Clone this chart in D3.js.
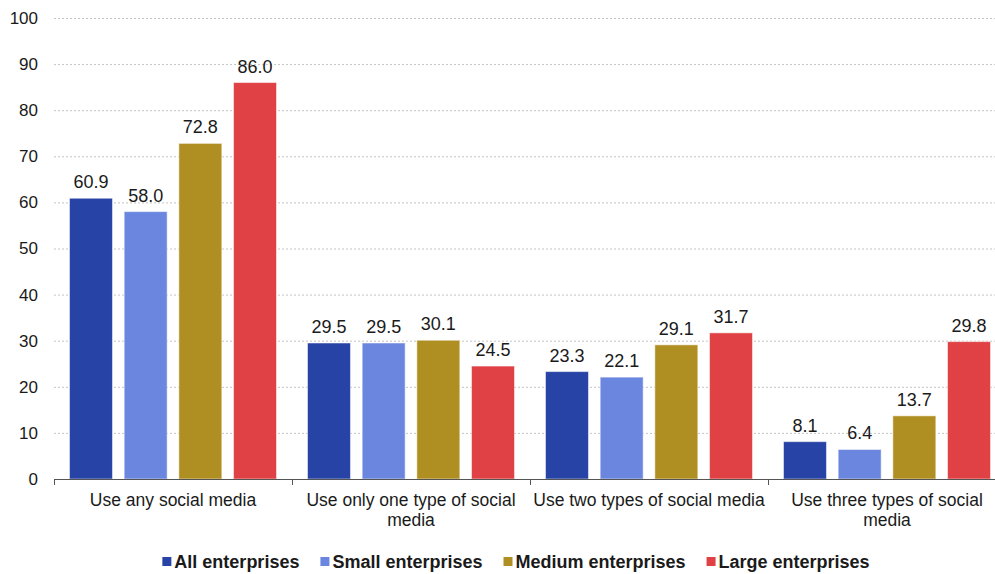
<!DOCTYPE html>
<html>
<head>
<meta charset="utf-8">
<script src="https://cdn.jsdelivr.net/npm/d3@7"></script>
<style>
  body { margin: 0; background: #fff; }
  svg text { font-family: "Liberation Sans", Arial, sans-serif; fill: #1a1a1a; }
</style>
</head>
<body>
<svg id="chart" width="995" height="574"></svg>
<script>
// chart data
var categories = ['Use any social media', 'Use only one type of social\nmedia', 'Use two types of social media', 'Use three types of social\nmedia'];
var seriesNames = ['All enterprises', 'Small enterprises', 'Medium enterprises', 'Large enterprises'];
var allEnterprises = [60.9, 29.5, 23.3, 8.1];
var smallEnterprises = [58.0, 29.5, 22.1, 6.4];
var mediumEnterprises = [72.8, 30.1, 29.1, 13.7];
var largeEnterprises = [86.0, 24.5, 31.7, 29.8];
var yTicks = [0, 10, 20, 30, 40, 50, 60, 70, 80, 90, 100];

var colors = ['#2743a6', '#6b86de', '#b08f22', '#e04144'];
var seriesValues = [allEnterprises, smallEnterprises, mediumEnterprises, largeEnterprises];

var svg = d3.select('#chart');
var margin = { top: 18, left: 54, bottom: 95 };
var plotRight = 1006;
var baseY = 574 - margin.bottom;

var x0 = d3.scaleBand()
    .domain(categories)
    .range([margin.left, plotRight])
    .padding(0);

var x1 = d3.scaleBand()
    .domain(seriesNames)
    .range([15.5, x0.bandwidth() - 15.5])
    .paddingInner(0.214)
    .paddingOuter(0);

var y = d3.scaleLinear()
    .domain([0, 100])
    .range([baseY, margin.top]);

// gridlines
svg.append('g')
    .selectAll('line')
    .data(yTicks.filter(function(d) { return d > 0; }))
    .enter()
    .append('line')
    .attr('x1', margin.left)
    .attr('x2', 995)
    .attr('y1', function(d) { return y(d) + 0.5; })
    .attr('y2', function(d) { return y(d) + 0.5; })
    .attr('stroke', '#c4c4c4')
    .attr('stroke-dasharray', '2,2');

// y labels
var yAxis = d3.axisLeft(y).tickValues(yTicks).tickSize(0).tickPadding(16);
var yg = svg.append('g')
    .attr('transform', 'translate(' + margin.left + ',0)')
    .call(yAxis);
yg.select('.domain').remove();
yg.selectAll('text')
    .style('font-size', '17px')
    .attr('fill', '#1a1a1a');

// bars
var groups = svg.append('g')
    .selectAll('g')
    .data(categories)
    .enter()
    .append('g')
    .attr('transform', function(d) { return 'translate(' + x0(d) + ',0)'; });

groups.selectAll('rect')
    .data(function(c, ci) {
        return seriesNames.map(function(s, si) {
            return { series: s, value: seriesValues[si][ci], color: colors[si] };
        });
    })
    .enter()
    .append('rect')
    .attr('x', function(d) { return x1(d.series); })
    .attr('y', function(d) { return y(d.value); })
    .attr('width', x1.bandwidth())
    .attr('height', function(d) { return baseY - y(d.value); })
    .attr('fill', function(d) { return d.color; })
    .attr('stroke', 'rgba(255,255,255,0.5)')
    .attr('stroke-width', 1);

groups.selectAll('text.val')
    .data(function(c, ci) {
        return seriesNames.map(function(s, si) {
            return { series: s, value: seriesValues[si][ci] };
        });
    })
    .enter()
    .append('text')
    .attr('class', 'val')
    .attr('x', function(d) { return x1(d.series) + x1.bandwidth() / 2; })
    .attr('y', function(d) { return y(d.value) - 10; })
    .attr('text-anchor', 'middle')
    .style('font-size', '18px')
    .text(function(d) { return d.value.toFixed(1); });

// x axis
var xg = svg.append('g').attr('transform', 'translate(0,' + baseY + ')');
xg.append('line')
    .attr('x1', margin.left)
    .attr('x2', 995)
    .attr('y1', 0.5)
    .attr('y2', 0.5)
    .attr('stroke', '#555');
xg.selectAll('line.tick')
    .data(categories)
    .enter()
    .append('line')
    .attr('class', 'tick')
    .attr('x1', function(d) { return x0(d) + 0.5; })
    .attr('x2', function(d) { return x0(d) + 0.5; })
    .attr('y1', 0)
    .attr('y2', 6)
    .attr('stroke', '#555');

xg.selectAll('text')
    .data(categories)
    .enter()
    .append('text')
    .attr('text-anchor', 'middle')
    .style('font-size', '17.5px')
    .each(function(d) {
        var t = d3.select(this);
        d.split('\n').forEach(function(line, i) {
            t.append('tspan')
                .attr('x', x0(d) + x0.bandwidth() / 2)
                .attr('y', 27 + i * 20)
                .text(line);
        });
    });

// legend
var legend = svg.append('g');
var items = legend.selectAll('g')
    .data(seriesNames)
    .enter()
    .append('g');
items.append('rect')
    .attr('width', 9)
    .attr('height', 9)
    .attr('y', 557)
    .attr('fill', function(d, i) { return colors[i]; });
items.append('text')
    .attr('x', 12)
    .attr('y', 568)
    .style('font-size', '18px')
    .style('font-weight', 'bold')
    .attr('fill', '#000')
    .text(function(d) { return d; });

var pos = 0;
var offsets = [];
items.each(function() {
    offsets.push(pos);
    pos += 12 + d3.select(this).select('text').node().getComputedTextLength() + 21;
});
var total = pos - 21;
var startX = 516 - total / 2;
items.attr('transform', function(d, i) { return 'translate(' + (startX + offsets[i]) + ',0)'; });
</script>
</body>
</html>
